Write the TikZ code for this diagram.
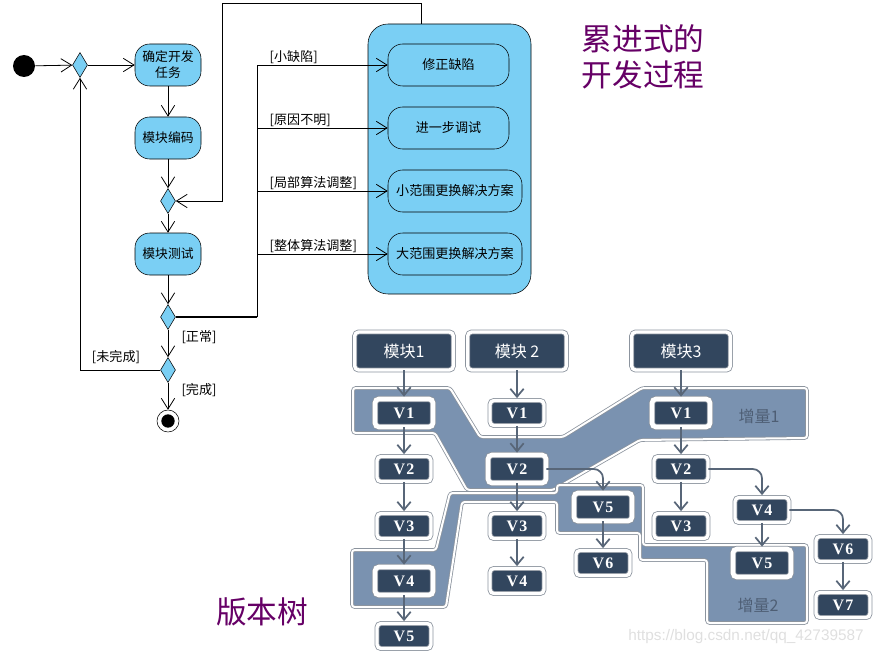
\documentclass[tikz,border=0pt]{standalone}
\usepackage{fontspec}
\setmainfont{Noto Sans CJK SC}
\newfontfamily\vfont{Liberation Serif}
\newfontfamily\wmfont{Liberation Sans}
\usetikzlibrary{shapes.geometric,arrows.meta}
\definecolor{actblue}{RGB}{122,207,244}
\definecolor{titlepurple}{RGB}{102,0,102}
\definecolor{treedark}{RGB}{50,70,94}
\definecolor{treegrey}{RGB}{140,148,158}
\definecolor{treearrow}{RGB}{88,102,120}
\definecolor{bandblue}{RGB}{122,146,176}
\definecolor{bandtext}{RGB}{78,94,116}
\begin{document}
\begin{tikzpicture}[x=0.75pt,y=-0.75pt,
  act/.style={draw, fill=actblue, rounded corners=11pt, minimum width=49.5pt, minimum height=31.5pt, inner sep=1pt, align=center, font=\fontsize{9.6}{12}\selectfont},
  sub/.style={draw, fill=actblue, rounded corners=11pt, minimum height=31.5pt, inner sep=1pt, font=\fontsize{9.8}{12}\selectfont},
  gate/.style={diamond, draw, fill=actblue, inner sep=0pt, minimum width=11.25pt, minimum height=18.75pt},
  guard/.style={font=\fontsize{9.8}{12}\selectfont, inner sep=1pt},
  uml/.style={-{Straight Barb[length=8pt,width=10pt]}, line width=0.6pt},
  head/.style={fill=treedark, draw=treegrey, double=white, double distance=2.5pt, line width=0.6pt, rounded corners=3pt, text=white, minimum width=74pt, minimum height=28.5pt, font=\fontsize{12}{14}\selectfont},
  ver/.style={fill=treedark, draw=treegrey, double=white, double distance=2.5pt, line width=0.6pt, rounded corners=3pt, text=white, minimum width=40.5pt, minimum height=18.75pt, inner sep=0pt, font=\vfont\bfseries\fontsize{12}{14}\selectfont},
  versel/.style={ver, double distance=3.5pt, minimum width=43.5pt, minimum height=21pt},
  tarr/.style={-{Straight Barb[length=6pt,width=10pt]}, line width=1.3pt, draw=treearrow, rounded corners=7pt, shorten >=1.5pt},
  band/.style={fill=bandblue, draw=treegrey, double=white, double distance=1.5pt, line width=0.6pt, rounded corners=2pt}]
\useasboundingbox (0,0) rectangle (877,656);
\node[circle, fill, minimum size=16.5pt, inner sep=0pt] (start) at (24,66) {};
\node[gate] (d1) at (80,65) {};
\node[act] (task) at (168,65) {确定开发\\任务};
\node[act] (code) at (168,138) {模块编码};
\node[gate] (d2) at (168,201) {};
\node[act] (test) at (168,254) {模块测试};
\node[gate] (d3) at (168,317) {};
\node[gate] (d4) at (168,370) {};
\node[circle, draw, fill=white, minimum size=16.5pt, inner sep=0pt] (fin) at (168,421) {};
\node[circle, fill, minimum size=10pt, inner sep=0pt] (fincore) at (fin) {};
\node[draw, fill=actblue, rounded corners=15pt, minimum width=122.25pt, minimum height=202.5pt] (lane) at (449.5,159) {};
\node[sub, minimum width=90.75pt] (fix) at (448.5,65) {修正缺陷};
\node[sub, minimum width=90.75pt] (debug) at (448.5,128) {进一步调试};
\node[sub, minimum width=100.5pt] (small) at (455,191) {小范围更换解决方案};
\node[sub, minimum width=100.5pt] (big) at (455,254) {大范围更换解决方案};
\draw[uml] (start) -- (d1);
\draw[uml] (d1) -- (task);
\draw[uml] (task) -- (code);
\draw[uml] (code) -- (d2);
\draw[uml] (d2) -- (test);
\draw[uml] (test) -- (d3);
\draw[uml] (d3) -- (d4);
\draw[uml] (d4) -- (fin);
\draw[uml] (d4) -| (d1);
\coordinate (loop) at (222,3);
\draw[uml] ([xshift=-21.4pt]lane.north) |- (loop) |- (d2);
\coordinate (fork) at (257,317);
\draw[line width=1.2pt] (d3) -- (fork);
\draw[uml] (fork) |- (fix) node[guard, pos=0.542, anchor=south west] {[小缺陷]};
\draw[uml] (fork) |- (debug) node[guard, pos=0.542, anchor=south west] {[原因不明]};
\draw[uml] (fork) |- (small) node[guard, pos=0.542, anchor=south west] {[局部算法调整]};
\draw[uml] (fork) |- (big) node[guard, pos=0.542, anchor=south west] {[整体算法调整]};
\node[guard] (ok) at (199,337) {[正常]};
\node[guard] (notyet) at (116,357) {[未完成]};
\node[guard] (done) at (199,390) {[完成]};
\node[text=titlepurple, align=center, font=\fontsize{23}{26.5}\selectfont] (title) at (643,57) {累进式的\\开发过程};
\node[text=titlepurple, font=\fontsize{23}{28}\selectfont] (treetitle) at (262,612) {版本树};
\draw[band] (353,388) -- (450,388) -- (480,437) -- (563,437) -- (642,388) -- (807,388) -- (807,438) -- (640,440) -- (553,490) -- (467,490) -- (435,433) -- (353,433) -- cycle;
\draw[band] (352,550) -- (436,550) -- (450,493) -- (557,493) -- (557,485) -- (643,485) -- (643,545) -- (807,545) -- (807,623) -- (707,623) -- (707,560) -- (640,560) -- (640,533) -- (557,533) -- (557,502) -- (462,502) -- (446,607) -- (352,607) -- cycle;
\node[text=bandtext, font=\fontsize{12}{14}\selectfont] (inc1) at (759,416) {增量1};
\node[text=bandtext, font=\fontsize{12}{14}\selectfont] (inc2) at (758,605) {增量2};
\node[head] (m1) at (404,351) {模块1};
\node[head] (m2) at (517,351) {模块 2};
\node[head] (m3) at (681,351) {模块3};
\node[versel] (a1) at (404,413) {V\kern1pt 1};
\node[ver] (a2) at (404,469) {V\kern1pt 2};
\node[ver] (a3) at (404,526) {V\kern1pt 3};
\node[versel] (a4) at (404,581) {V\kern1pt 4};
\node[ver] (a5) at (404,636) {V\kern1pt 5};
\node[ver] (b1) at (517,413) {V\kern1pt 1};
\node[versel] (b2) at (517,469) {V\kern1pt 2};
\node[ver] (b3) at (517,526) {V\kern1pt 3};
\node[ver] (b4) at (517,581) {V\kern1pt 4};
\node[versel] (b5) at (603,507) {V\kern1pt 5};
\node[ver] (b6) at (603,563) {V\kern1pt 6};
\node[versel] (c1) at (681,413) {V\kern1pt 1};
\node[ver] (c2) at (681,469) {V\kern1pt 2};
\node[ver] (c3) at (681,526) {V\kern1pt 3};
\node[ver] (c4) at (762,510) {V\kern1pt 4};
\node[versel] (c5) at (762,563) {V\kern1pt 5};
\node[ver] (c6) at (843,549) {V\kern1pt 6};
\node[ver] (c7) at (843,605) {V\kern1pt 7};
\draw[tarr] (m1) -- (a1);
\draw[tarr] (a1) -- (a2);
\draw[tarr] (a2) -- (a3);
\draw[tarr] (a3) -- (a4);
\draw[tarr] (a4) -- (a5);
\draw[tarr] (m2) -- (b1);
\draw[tarr] (b1) -- (b2);
\draw[tarr] (b2) -- (b3);
\draw[tarr] (b3) -- (b4);
\draw[tarr] (b2) -| (b5);
\draw[tarr] (b5) -- (b6);
\draw[tarr] (m3) -- (c1);
\draw[tarr] (c1) -- (c2);
\draw[tarr] (c2) -- (c3);
\draw[tarr] (c2) -| (c4);
\draw[tarr] (c4) -- (c5);
\draw[tarr] (c4) -| (c6);
\draw[tarr] (c6) -- (c7);
\node[text=gray!25, font=\wmfont\fontsize{11.5}{13}\selectfont] (mark) at (746,637) {https://blog.csdn.net/qq\_42739587};
\end{tikzpicture}
\end{document}
